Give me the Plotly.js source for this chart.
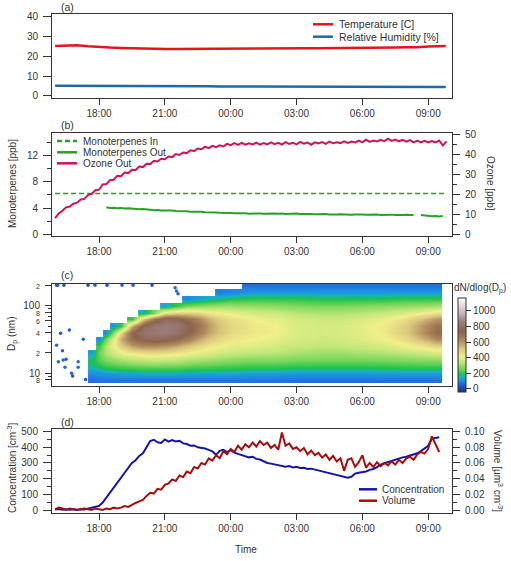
<!DOCTYPE html>
<html>
<head>
<meta charset="utf-8">
<script src="https://cdn.plot.ly/plotly-3.0.1.min.js"></script>
<style>
  html, body { margin: 0; padding: 0; background: #fff; }
  #chart { width: 511px; height: 561px; }
</style>
</head>
<body>
<div id="chart"></div>
<script>
// Overnight chamber run: conditions, monoterpenes/ozone, SMPS size distribution, integrated number and volume.
const DAY0 = '2019-07-10', DAY1 = '2019-07-11';

// (a) chamber conditions
const metTimes = ['16:00','16:30','17:00','17:30','18:00','18:30','19:00','19:30','20:00','20:30','21:00','21:30',
  '22:00','22:30','23:00','23:30','00:00','00:30','01:00','01:30','02:00','02:30','03:00','03:30','04:00','04:30',
  '05:00','05:30','06:00','06:30','07:00','07:30','08:00','08:30','09:00','09:30','09:48'];
const temperature = [25.3,25.6,25.7,25.2,24.7,24.5,24.3,24.1,24.0,23.9,23.8,23.8,23.8,23.9,23.9,23.9,24.0,24.0,24.1,24.1,
  24.1,24.1,24.1,24.1,24.2,24.2,24.3,24.4,24.4,24.5,24.5,24.5,24.6,24.6,25.0,25.3,25.3];
const humidity = [5.2,5.2,5.2,5.1,5.1,5.1,5.0,5.0,5.0,5.0,4.9,4.9,4.9,4.9,4.9,4.8,4.8,4.8,4.8,4.8,4.8,4.7,4.7,4.7,4.7,
  4.7,4.7,4.7,4.7,4.6,4.6,4.6,4.6,4.6,4.5,4.5,4.5];

// (b) 10-minute means
const ozoneStart = '16:00';
const ozoneOut = [
  8.1, 10.4, 11.8, 13.5, 13.9, 15.3,
  15.8, 17.4, 17.7, 19.6, 20.2, 22.0,
  22.3, 24.9, 25.1, 27.0, 27.3, 29.2,
  29.0, 30.9, 30.6, 32.3, 32.2, 33.9,
  33.6, 35.3, 35.2, 36.7, 36.4, 37.8,
  37.5, 38.9, 38.6, 40.1, 39.7, 40.9,
  40.6, 42.0, 41.6, 42.9, 42.5, 43.8,
  43.1, 44.2, 43.6, 44.5, 43.9, 45.2,
  44.6, 45.6, 44.7, 45.7, 44.8, 45.5,
  44.9, 45.8, 44.8, 45.6, 45.0, 46.0,
  45.1, 45.7, 44.9, 46.1, 45.2, 45.8,
  45.0, 46.2, 45.3, 45.9, 44.8, 46.0,
  45.4, 46.1, 45.2, 46.3, 45.5, 46.0,
  45.6, 46.5, 45.7, 46.4, 45.9, 46.8,
  46.0, 47.3, 46.2, 46.9, 46.4, 47.2,
  46.6, 47.8, 46.7, 47.4, 46.5, 47.2,
  46.3, 47.1, 46.0, 46.8, 45.9, 46.7,
  45.9, 46.6, 46.0, 46.9, 44.4, 46.5];
const monoOutStart = '18:20';
const monoOut = [
  4.12, 4.02, 4.06, 3.97,
  4.00, 3.92, 3.96, 3.88, 3.91, 3.83,
  3.86, 3.76, 3.74, 3.68, 3.72, 3.63,
  3.66, 3.58, 3.61, 3.54, 3.57, 3.50,
  3.53, 3.45, 3.48, 3.41, 3.43, 3.36,
  3.38, 3.30, 3.33, 3.27, 3.30, 3.22,
  3.26, 3.20, 3.24, 3.17, 3.21, 3.15,
  3.19, 3.13, 3.18, 3.12, 3.17, 3.11,
  3.16, 3.12, 3.17, 3.10, 3.15, 3.11,
  3.16, 3.10, 3.13, 3.07, 3.11, 3.05,
  3.09, 3.04, 3.08, 3.02, 3.07, 3.01,
  3.05, 3.00, 3.04, 2.98, 3.03, 2.97,
  3.02, 2.97, 3.01, 2.96, 3.01, 2.96,
  3.00, 2.95, 3.00, 2.94, 2.99, 2.93,
  2.97, 2.92, 2.95, null, 2.93, 2.86,
  2.82, 2.76, 2.80, 2.73, 2.79];
const monoInTimes = ['16:00', '09:50'];
const monoIn = [6.2, 6.2];

// (d) integrated number and volume, 10-minute means
const sizeStart = '16:00';
const concentration = [
  3, 6, 2, 5, 1, 4,
  2, 5, 3, 8, 12, 18,
  26, 48, 80, 108, 138, 170,
  205, 236, 268, 300, 318, 345,
  362, 398, 440, 448, 432, 428,
  450, 436, 446, 438, 442, 425,
  421, 410, 412, 400, 398, 392,
  384, 374, 352, 378, 384, 370,
  382, 366, 358, 350, 340, 336,
  340, 326, 322, 310, 300, 296,
  292, 284, 282, 276, 280, 272,
  276, 268, 270, 262, 264, 258,
  256, 250, 244, 238, 232, 226,
  220, 214, 206, 212, 232, 238,
  242, 246, 256, 262, 274, 290,
  298, 306, 314, 322, 326, 336,
  340, 348, 352, 362, 376, 392,
  410, 455, 460, 464];
const volume = [
  0.001, 0.003, 0.002, 0.000, 0.002, 0.001,
  0.000, 0.001, 0.002, 0.001, 0.000, 0.002,
  0.001, 0.000, 0.002, 0.001, 0.003, 0.002,
  0.003, 0.005, 0.004, 0.007, 0.009, 0.011,
  0.013, 0.018, 0.022, 0.021, 0.027, 0.026,
  0.032, 0.034, 0.039, 0.037, 0.044, 0.042,
  0.049, 0.047, 0.055, 0.053, 0.060, 0.058,
  0.066, 0.063, 0.070, 0.066, 0.075, 0.071,
  0.078, 0.074, 0.082, 0.077, 0.084, 0.080,
  0.086, 0.081, 0.088, 0.083, 0.086, 0.079,
  0.083, 0.077, 0.099, 0.082, 0.085, 0.078,
  0.080, 0.075, 0.079, 0.071, 0.076, 0.070,
  0.073, 0.067, 0.071, 0.064, 0.069, 0.062,
  0.066, 0.050, 0.064, 0.066, 0.055, 0.061,
  0.070, 0.054, 0.060, 0.055, 0.061, 0.056,
  0.060, 0.057, 0.062, 0.058, 0.064, 0.060,
  0.066, 0.068, 0.064, 0.071, 0.074, 0.072,
  0.078, 0.094, 0.084, 0.074];

// (c) SMPS scans: one column per scan time, diameters bottom to top (nm); null = no counts
const smpsTimes = ['17:40','18:00','18:20','18:40','19:00','19:30','20:00','20:30','21:00','21:30','22:00','22:30',
  '23:00','23:30','00:00','01:00','02:00','03:00','04:00','05:00','06:00','07:00','08:00','09:00','09:25'];
const smpsDiameters = [8, 10, 12.6, 15.8, 20, 25, 32, 40, 50, 63, 79, 100, 126, 158, 200];
const smpsScans = [
  [70,110,160,180,130,null,null,null,null,null,null,null,null,null,null],
  [80,120,180,230,250,210,110,null,null,null,null,null,null,null,null],
  [80,130,200,270,320,330,260,110,null,null,null,null,null,null,null],
  [80,130,210,290,370,420,400,300,120,null,null,null,null,null,null],
  [80,140,220,310,400,500,560,480,200,null,null,null,null,null,null],
  [80,140,230,330,440,580,700,720,560,200,null,null,null,null,null],
  [80,150,240,340,460,620,760,820,760,500,150,null,null,null,null],
  [80,150,240,350,470,620,780,840,830,680,260,null,null,null,null],
  [80,150,240,340,460,600,760,850,860,780,460,140,null,null,null],
  [80,150,240,340,440,570,720,820,840,760,500,200,null,null,null],
  [80,140,230,320,420,520,660,740,760,700,500,260,110,null,null],
  [80,140,220,310,400,480,580,660,690,640,480,280,130,null,null],
  [80,140,220,300,380,440,510,570,590,550,440,290,150,null,null],
  [80,140,210,290,360,420,470,510,520,490,420,300,170,90,null],
  [80,140,210,280,350,400,440,470,480,460,400,300,190,100,null],
  [80,130,200,270,340,390,420,440,440,420,370,290,200,120,70],
  [80,130,200,270,330,370,400,420,420,400,360,280,200,120,70],
  [75,125,190,260,310,350,370,380,380,370,330,270,200,120,70],
  [75,125,190,255,300,340,360,370,370,360,320,260,190,120,70],
  [75,125,190,255,300,345,365,375,375,360,320,260,190,120,70],
  [75,125,190,255,310,355,385,395,395,380,330,270,190,120,70],
  [75,130,195,260,320,375,415,435,435,410,350,280,190,120,70],
  [75,130,200,270,340,410,470,500,500,460,380,290,200,120,70],
  [75,130,200,280,360,460,570,640,630,560,430,300,200,120,70],
  [75,130,200,280,370,490,630,710,690,600,460,310,200,120,70]];
// isolated counts before the growth event and above its front
const sparseTimes = ['16:04','16:09','16:15','16:20','16:22','16:27','16:30','16:39','16:45','16:48','17:03','17:03','17:17','17:23',
  '16:04','16:07','16:24','17:30','17:49','18:22','19:03','19:33','20:25','21:28','21:32','21:36'];
const sparseDp = [26, 14.8, 39, 21.6, 15.7, 12.3, 16.2, 43.7, 10, 9.1, 14.8, 12.3, 31.8, 8.1,
  200, 200, 200, 200, 200, 200, 200, 200, 200, 185, 165, 150];
const sparseCounts = [60, 70, 40, 50, 60, 70, 50, 40, 60, 30, 70, 60, 50, 40,
  40, 50, 40, 30, 50, 40, 60, 50, 40, 60, 70, 60];

// Size-distribution colour table (dN/dlogDp stops)
const cmapStops = [-40, 40, 100, 150, 185, 260, 340, 420, 520, 620, 730, 850, 980, 1165];
const cmapColors = ['#2b2a86','#2457c8','#1f86e8','#18b0c4','#1ec24a','#7ad65c','#c2e77a','#f2ef8a',
  '#d9c47c','#b08a5e','#8c644a','#9a7a78','#c9bcc2','#ffffff'];

// ---------------------------------------------------------------------------
const W = 511, H = 561;
const FONT = 'Liberation Sans, Arial, sans-serif';
const INK = '#333';
const px = x => x / W;
const py = y => 1 - y / H;
const pad2 = n => String(n).padStart(2, '0');
const minutesOf = hhmm => { const [h, m] = hhmm.split(':').map(Number); return (h < 12 ? 1440 : 0) + h * 60 + m; };
const stamp = min => (min >= 1440 ? DAY1 : DAY0) + ' ' + pad2(Math.floor((min % 1440) / 60)) + ':' + pad2(min % 60);
const clock = hhmm => stamp(minutesOf(hhmm));
const stepped = (start, stepMin, n) => Array.from({length: n}, (_, i) => stamp(minutesOf(start) + i * stepMin));

const zmin = cmapStops[0], zmax = cmapStops[cmapStops.length - 1];
const colorscale = cmapStops.map((v, i) => [(v - zmin) / (zmax - zmin), cmapColors[i]]);
const smpsZ = smpsDiameters.map((_, r) => smpsScans.map(col => col[r]));

const C = {
  temp: '#e8141c', rh: '#1f6aa5', mono: '#27a227', ozone: '#d3105a', conc: '#1616a2', vol: '#a30f0f'
};

const traces = [
  {x: metTimes.map(clock), y: temperature, name: 'Temperature [C]', xaxis: 'x', yaxis: 'y',
   mode: 'lines', line: {color: C.temp, width: 2.5}},
  {x: metTimes.map(clock), y: humidity, name: 'Relative Humidity [%]', xaxis: 'x', yaxis: 'y',
   mode: 'lines', line: {color: C.rh, width: 2.5}},

  {x: monoInTimes.map(clock), y: monoIn, name: 'Monoterpenes In', xaxis: 'x2', yaxis: 'y2',
   mode: 'lines', line: {color: C.mono, width: 1.6, dash: '5px,3px'}},
  {x: stepped(monoOutStart, 10, monoOut.length), y: monoOut, name: 'Monoterpenes Out', xaxis: 'x2', yaxis: 'y2',
   mode: 'lines', line: {color: C.mono, width: 2}, connectgaps: false},
  {x: stepped(ozoneStart, 10, ozoneOut.length), y: ozoneOut, name: 'Ozone Out', xaxis: 'x2', yaxis: 'y3',
   mode: 'lines', line: {color: C.ozone, width: 2}},

  {type: 'heatmap', x: smpsTimes.map(clock), y: smpsDiameters, z: smpsZ, xaxis: 'x3', yaxis: 'y4',
   zsmooth: 'best', colorscale, zmin, zmax, hoverinfo: 'skip',
   colorbar: {
     x: px(458), xanchor: 'left', xref: 'paper', y: py(345), yanchor: 'middle', yref: 'paper',
     len: 94, lenmode: 'pixels', thickness: 8, thicknessmode: 'pixels', xpad: 0, ypad: 0,
     outlinewidth: 1, outlinecolor: INK, tickvals: [0, 200, 400, 600, 800, 1000],
     ticks: 'outside', ticklen: 5, tickcolor: INK, tickfont: {family: FONT, size: 10, color: INK}
   }},
  {x: sparseTimes.map(clock), y: sparseDp, xaxis: 'x3', yaxis: 'y4', mode: 'markers',
   marker: {size: 3.5, color: sparseCounts, colorscale, cmin: zmin, cmax: zmax, showscale: false}},

  {x: stepped(sizeStart, 10, concentration.length), y: concentration, name: 'Concentration', xaxis: 'x4', yaxis: 'y5',
   mode: 'lines', line: {color: C.conc, width: 2}},
  {x: stepped(sizeStart, 10, volume.length), y: volume, name: 'Volume', xaxis: 'x4', yaxis: 'y6',
   mode: 'lines', line: {color: C.vol, width: 2}}
];

const tickFont = {family: FONT, size: 10, color: INK};
const xAxis = anchor => ({
  type: 'date', anchor, domain: [px(52), px(452)],
  range: [DAY0 + ' 15:51:30', DAY1 + ' 10:05:00'],
  tick0: DAY0 + ' 18:00', dtick: 3 * 3600 * 1000, tickformat: '%H:%M',
  ticks: 'outside', ticklen: 6, tickcolor: INK, tickwidth: 1, ticklabelstandoff: 7.5,
  showline: true, linecolor: INK, linewidth: 1, mirror: true,
  showgrid: false, zeroline: false, tickfont: tickFont
});
const yAxis = (anchor, top, bottom, extra) => Object.assign({
  anchor, domain: [py(bottom), py(top)],
  ticks: 'outside', ticklen: 8, tickcolor: INK, tickwidth: 1, ticklabelstandoff: 3,
  showline: true, linecolor: INK, linewidth: 1, mirror: true,
  showgrid: false, zeroline: false, tickfont: tickFont
}, extra);
const minor = d => ({dtick: d, ticks: 'outside', ticklen: 4, tickcolor: INK, showgrid: false});
const small = s => `<span style="font-size:7px">${s}</span>`;

const layout = {
  width: W, height: H, margin: {l: 0, r: 0, t: 0, b: 0, autoexpand: false},
  paper_bgcolor: '#fff', plot_bgcolor: '#fff', showlegend: false, hovermode: false,
  font: {family: FONT, size: 10, color: INK},
  xaxis: xAxis('y'), xaxis2: xAxis('y2'), xaxis3: xAxis('y4'), xaxis4: xAxis('y5'),
  yaxis: yAxis('x', 14, 98.3, {range: [-1.2, 41.5], tick0: 0, dtick: 10}),
  yaxis2: yAxis('x2', 133.3, 235.7, {range: [-0.2, 15.35], tick0: 0, dtick: 4, minor: minor(2)}),
  yaxis3: {overlaying: 'y2', side: 'right', anchor: 'x2', range: [-0.7, 50.5], tick0: 0, dtick: 10,
    ticks: 'outside', ticklen: 7, tickcolor: INK, ticklabelstandoff: 3, minor: minor(5),
    showline: true, linecolor: INK, showgrid: false, zeroline: false, tickfont: tickFont},
  yaxis4: yAxis('x3', 284, 385.7, {type: 'log', range: [0.817, 2.321],
    tickvals: [8, 10, 20, 40, 60, 80, 100, 200],
    ticktext: [small('8'), '10', small('2'), small('4'), small('6'), small('8'), '100', small('2')],
    ticklen: 6,
    minor: {tickvals: [9, 30, 50, 70, 90], ticks: 'outside', ticklen: 3, tickcolor: INK, showgrid: false}}),
  yaxis5: yAxis('x4', 429.3, 513.3, {range: [-21, 515], tick0: 0, dtick: 100, minor: minor(50)}),
  yaxis6: {overlaying: 'y5', side: 'right', anchor: 'x4', range: [-0.0042, 0.103], tick0: 0, dtick: 0.02,
    tickformat: '.2f', ticks: 'outside', ticklen: 7, tickcolor: INK, ticklabelstandoff: 3, minor: minor(0.01),
    showline: true, linecolor: INK, showgrid: false, zeroline: false, tickfont: tickFont},
  shapes: [], annotations: []
};

const note = (text, x, y, opts) => layout.annotations.push(Object.assign({
  text, x: px(x), y: py(y), xref: 'paper', yref: 'paper', showarrow: false,
  xanchor: 'center', yanchor: 'middle', font: {family: FONT, size: 10, color: INK}
}, opts));

// panel tags
[['(a)', 7], ['(b)', 125], ['(c)', 275], ['(d)', 422]].forEach(([t, y]) =>
  note(t, 59, y, {xanchor: 'left', font: {family: FONT, size: 10.5, color: INK}}));

// axis titles
note('Monoterpenes [ppb]', 12, 184, {textangle: -90});
note('Ozone [ppb]', 490, 183, {textangle: 90});
note('D<sub>p</sub> (nm)', 12, 334, {textangle: -90});
note('Concentration [cm<sup>-3</sup>]', 12, 468, {textangle: -90});
note('Volume [µm<sup>3</sup> cm<sup>-3</sup>]', 498, 471, {textangle: 90});
note('Time', 246, 549);
note('dN/dlog(D<sub>p</sub>)', 452, 288, {xanchor: 'left', font: {family: FONT, size: 10, color: INK}});

// legends built from the traces they describe
function legend(names, x0, x1, xt, ys, size) {
  names.forEach((name, i) => {
    const tr = traces.find(t => t.name === name);
    layout.shapes.push({type: 'line', xref: 'paper', yref: 'paper', x0: px(x0), x1: px(x1), y0: py(ys[i]), y1: py(ys[i]),
      line: {color: tr.line.color, width: 2.5, dash: tr.line.dash || 'solid'}});
    note(name, xt, ys[i], {xanchor: 'left', font: {family: FONT, size, color: INK}});
  });
}
legend(['Temperature [C]', 'Relative Humidity [%]'], 313, 333, 337, [24.3, 36.7], 10.5);
legend(['Monoterpenes In', 'Monoterpenes Out', 'Ozone Out'], 57, 77, 81, [141, 152.3, 163.3], 10);
legend(['Concentration', 'Volume'], 359, 377, 380, [489.3, 500.7], 10);

Plotly.newPlot('chart', traces, layout, {staticPlot: true, displayModeBar: false});
</script>
</body>
</html>
